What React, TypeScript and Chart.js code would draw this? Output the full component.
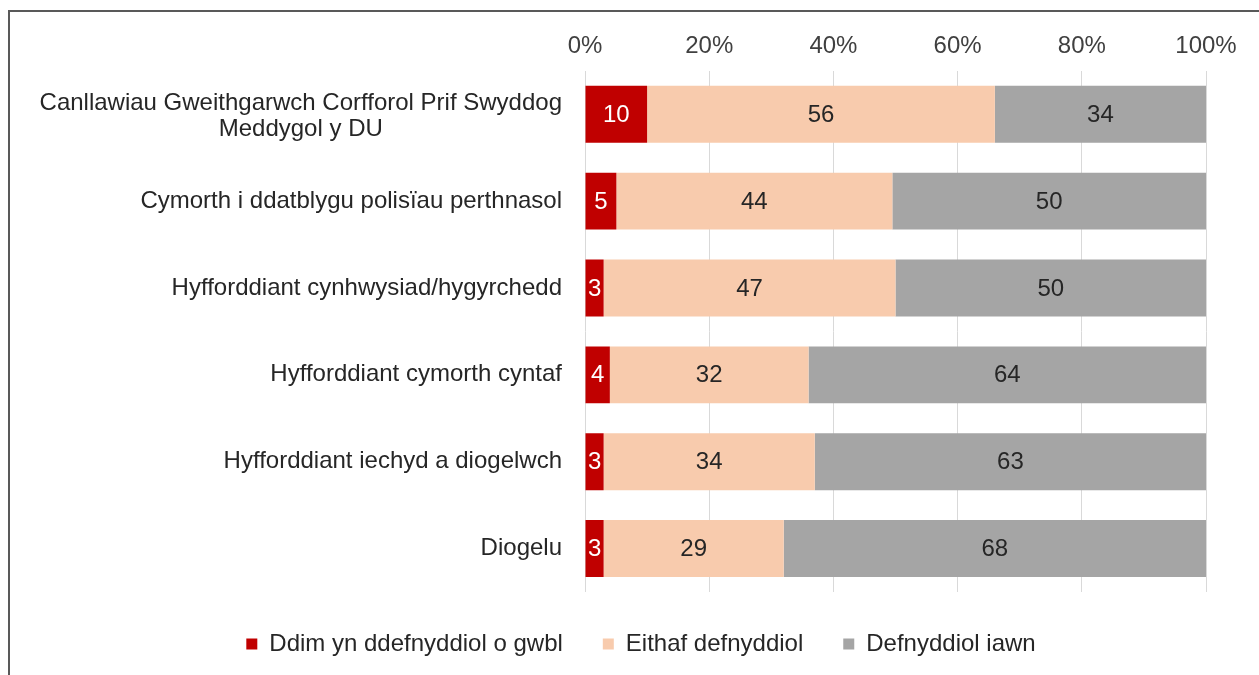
import React, { useEffect, useRef } from "react";
import { Chart, registerables } from "chart.js";

Chart.register(...registerables);

const categories: string[][] = [
  ["Canllawiau Gweithgarwch Corfforol Prif Swyddog", "Meddygol y DU"],
  ["Cymorth i ddatblygu polisïau perthnasol"],
  ["Hyfforddiant cynhwysiad/hygyrchedd"],
  ["Hyfforddiant cymorth cyntaf"],
  ["Hyfforddiant iechyd a diogelwch"],
  ["Diogelu"],
];

const seriesNames = ["Ddim yn ddefnyddiol o gwbl", "Eithaf defnyddiol", "Defnyddiol iawn"];
const ddimValues = [10, 5, 3, 4, 3, 3];
const eithafValues = [56, 44, 47, 32, 34, 29];
const defnyddiolValues = [34, 50, 50, 64, 63, 68];
const seriesColors = ["#C00000", "#F8CBAD", "#A5A5A5"];
const labelColors = ["#FFFFFF", "#262626", "#262626"];
const tickValues = [0, 20, 40, 60, 80, 100];

const FONT = "'Liberation Sans', Arial, sans-serif";
const FONT_SIZE = 24;

export default function App() {
  const ref = useRef<HTMLCanvasElement | null>(null);

  useEffect(() => {
    if (!ref.current) return;
    const raw = [ddimValues, eithafValues, defnyddiolValues];
    const totals = categories.map((_, i) => raw.reduce((s, arr) => s + arr[i], 0));
    const datasets = raw.map((arr, k) => ({
      label: seriesNames[k],
      data: arr.map((v, i) => (v / totals[i]) * 100),
      rawValues: arr,
      backgroundColor: seriesColors[k],
      borderWidth: 0,
      barPercentage: 0.655,
      categoryPercentage: 1,
    }));

    const catLabelPlugin = {
      id: "catLabels",
      afterDraw(chart: any) {
        const { ctx } = chart;
        const y = chart.scales.y;
        const rightX = 562;
        ctx.save();
        ctx.font = `${FONT_SIZE}px ${FONT}`;
        ctx.fillStyle = "#262626";
        ctx.textBaseline = "middle";
        categories.forEach((lines, i) => {
          const cy = y.getPixelForValue(i);
          const lh = 26;
          if (lines.length === 1) {
            ctx.textAlign = "right";
            ctx.fillText(lines[0], rightX, cy);
          } else {
            const w = Math.max(...lines.map((l) => ctx.measureText(l).width));
            const cx = rightX - w / 2;
            ctx.textAlign = "center";
            const start = cy + 2 - ((lines.length - 1) * lh) / 2;
            lines.forEach((l, j) => ctx.fillText(l, cx, start + j * lh));
          }
        });
        ctx.restore();
      },
    };

    const valueLabelPlugin = {
      id: "valueLabels",
      afterDatasetsDraw(chart: any) {
        const { ctx } = chart;
        ctx.save();
        ctx.font = `${FONT_SIZE}px ${FONT}`;
        ctx.textAlign = "center";
        ctx.textBaseline = "middle";
        chart.data.datasets.forEach((ds: any, k: number) => {
          const meta = chart.getDatasetMeta(k);
          meta.data.forEach((bar: any, i: number) => {
            const cx = (bar.x + bar.base) / 2;
            ctx.fillStyle = labelColors[k];
            ctx.fillText(String(ds.rawValues[i]), cx, bar.y + 1);
          });
        });
        ctx.restore();
      },
    };

    const chart = new Chart(ref.current, {
      type: "bar",
      data: {
        labels: categories.map((c) => c.join(" ")),
        datasets: datasets as any,
      },
      options: {
        indexAxis: "y",
        responsive: false,
        animation: false,
        layout: { padding: { top: 22, right: 53, bottom: 9, left: 76 } },
        font: { family: FONT },
        scales: {
          x: {
            position: "top",
            stacked: true,
            min: 0,
            max: 100,
            afterBuildTicks: (s: any) => {
              s.ticks = tickValues.map((v) => ({ value: v }));
            },
            ticks: {
              callback: (v: any) => `${v}%`,
              font: { size: FONT_SIZE, family: FONT },
              color: "#404040",
              padding: 10,
              maxRotation: 0,
            },
            grid: { color: "#D9D9D9", lineWidth: 1, drawTicks: false },
            border: { display: false },
          },
          y: {
            stacked: true,
            ticks: { display: false },
            grid: { display: false },
            border: { display: false },
            afterFit: (s: any) => {
              s.width = 509;
            },
          },
        },
        plugins: {
          legend: {
            position: "bottom",
            labels: {
              boxWidth: 11,
              boxHeight: 11,
              padding: 40,
              color: "#262626",
              font: { size: FONT_SIZE, family: FONT },
            },
          },
          tooltip: { enabled: false },
        },
      } as any,
      plugins: [catLabelPlugin, valueLabelPlugin],
    });
    return () => chart.destroy();
  }, []);

  return (
    <div style={{ position: "fixed", left: 0, top: 0, width: 1259, height: 675, overflow: "hidden", background: "#fff" }}>
      <div
        style={{
          position: "absolute",
          left: 8,
          top: 10,
          width: 1251,
          height: 665,
          borderTop: "2px solid #595959",
          borderLeft: "2px solid #595959",
          boxSizing: "border-box",
        }}
      />
      <canvas ref={ref} width={1259} height={675} style={{ position: "absolute", left: 0, top: 0, width: 1259, height: 675 }} />
    </div>
  );
}
